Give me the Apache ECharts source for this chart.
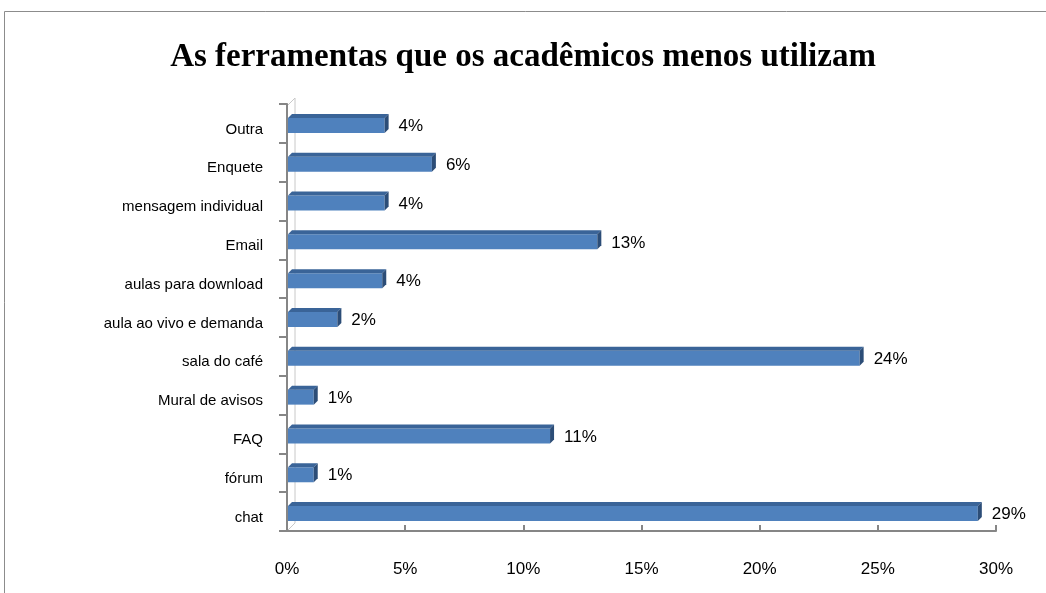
<!DOCTYPE html>
<html>
<head>
<meta charset="utf-8">
<script src="https://cdn.jsdelivr.net/npm/echarts@6/dist/echarts.min.js"></script>
<style>
  html, body { margin: 0; padding: 0; background: #fff; }
  #chart { width: 1046px; height: 593px; }
</style>
</head>
<body>
<div id="chart"></div>
<script>
// categories from bottom to top, as ECharts draws a category y axis
const categories = ['chat', 'fórum', 'FAQ', 'Mural de avisos', 'sala do café', 'aula ao vivo e demanda',
  'aulas para download', 'Email', 'mensagem individual', 'Enquete', 'Outra'];
// percentages (labels show them rounded)
const values = [29.4, 1.3, 11.3, 1.3, 24.4, 2.3, 4.2, 13.3, 4.3, 6.3, 4.3];
const xTicks = [0, 5, 10, 15, 20, 25, 30];

const chart = echarts.init(document.getElementById('chart'));

const depth = 4;     // 3d depth of the bars
const barH = 15;     // bar front face height

function renderBar(params, api) {
  const cat = api.value(0);
  const val = api.value(1);
  const p0 = api.coord([0, cat]);
  const p1 = api.coord([val, cat]);
  const x0 = p0[0] + 1;
  const x1 = p1[0] - depth;
  const yTop = p0[1] - barH / 2 + 2;
  const yBot = yTop + barH;
  return {
    type: 'group',
    children: [
      { type: 'rect', shape: { x: x0, y: yTop, width: x1 - x0, height: barH },
        style: { fill: '#4f81bd' } },
      { type: 'polygon', shape: { points: [[x0, yTop], [x0 + depth, yTop - depth], [x1 + depth, yTop - depth], [x1, yTop]] },
        style: { fill: '#3a6498' } },
      { type: 'polygon', shape: { points: [[x1, yTop], [x1 + depth, yTop - depth], [x1 + depth, yBot - depth], [x1, yBot]] },
        style: { fill: '#2c4d77' } },
      { type: 'text', x: x1 + depth + 10, y: (yTop + yBot) / 2 + 1,
        style: { text: Math.round(val) + '%', fill: '#000', font: '17px "Liberation Sans"', verticalAlign: 'middle' } }
    ]
  };
}

const option = {
  animation: false,
  title: {
    text: 'As ferramentas que os acadêmicos menos utilizam',
    left: 'center',
    top: 36,
    textStyle: { fontFamily: 'Liberation Serif', fontWeight: 'bold', fontSize: 33, color: '#000' }
  },
  graphic: [
    { type: 'rect', shape: { x: 4.5, y: 11.5, width: 1100, height: 640 },
      style: { fill: 'none', stroke: '#8c8c8c', lineWidth: 1 } },
    // back wall edge
    { type: 'polyline', shape: { points: [[287, 106], [295, 98], [295, 523], [287, 531]] },
      style: { fill: 'none', stroke: '#c8c8c8', lineWidth: 1 } }
  ],
  grid: { left: 287, right: 50, top: 104, bottom: 62 },
  xAxis: {
    type: 'value', min: 0, max: 30, interval: 5,
    axisLine: { show: true, lineStyle: { color: '#868686', width: 2 } },
    axisTick: { show: true, inside: true, length: 6, lineStyle: { color: '#868686', width: 2 } },
    splitLine: { show: false },
    axisLabel: {
      margin: 30, color: '#000', fontSize: 17, fontFamily: 'Liberation Sans',
      formatter: v => xTicks.includes(v) ? v + '%' : ''
    }
  },
  yAxis: {
    type: 'category', data: categories,
    axisLine: { show: true, lineStyle: { color: '#868686', width: 2 } },
    axisTick: { show: true, length: 8, lineStyle: { color: '#868686', width: 2 } },
    axisLabel: {
      margin: 24, color: '#000', fontSize: 15, fontFamily: 'Liberation Sans',
      verticalAlign: 'top', lineHeight: 12
    }
  },
  series: [{
    type: 'custom',
    renderItem: renderBar,
    encode: { x: 1, y: 0 },
    data: values.map((v, i) => [i, v])
  }]
};

chart.setOption(option);
</script>
</body>
</html>
